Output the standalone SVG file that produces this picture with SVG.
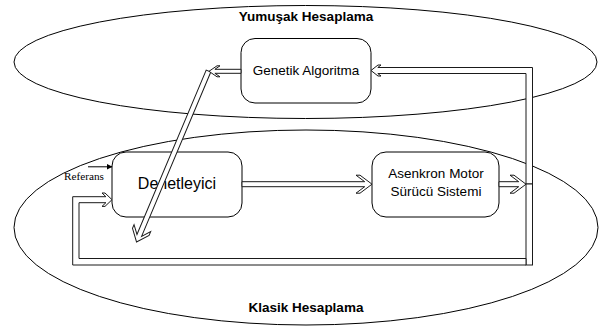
<svg xmlns="http://www.w3.org/2000/svg" width="600" height="329" viewBox="0 0 600 329">
  <style>
    .zone { fill: none; stroke: #000; stroke-width: 1; }
    .box { fill: #fff; stroke: #000; stroke-width: 1; }
    .flow { fill: #fff; stroke: #1a1a1a; stroke-width: 1; stroke-linejoin: miter; }
    .title { font-family: "Liberation Sans", Arial, sans-serif; font-weight: bold; font-size: 13.5px; fill: #000; text-anchor: middle; }
    .label { font-family: "Liberation Sans", Arial, sans-serif; font-size: 13.5px; fill: #000; text-anchor: middle; }
    .big { font-family: "Liberation Sans", Arial, sans-serif; font-size: 16px; fill: #000; text-anchor: middle; }
    .small { font-family: "Liberation Serif", "Times New Roman", serif; font-size: 10px; fill: #000; }
  </style>
  <defs>
    <marker id="solidHead" markerWidth="6" markerHeight="6" refX="5.5" refY="3" orient="auto" markerUnits="userSpaceOnUse">
      <path d="M0,0 L6,3 L0,6 Z" fill="#000"/>
    </marker>
  </defs>

  <!-- computing domains -->
  <g id="soft-computing">
    <ellipse class="zone" cx="305.5" cy="62" rx="291.5" ry="56.5"/>
    <text class="title" x="306" y="21">Yumuşak Hesaplama</text>
  </g>
  <g id="classic-computing">
    <ellipse class="zone" cx="306" cy="227.5" rx="292" ry="97.5"/>
    <text class="title" x="306" y="311.5">Klasik Hesaplama</text>
  </g>

  <!-- blocks -->
  <g id="genetic-algorithm">
    <rect class="box" x="241" y="38.5" width="130" height="64.5" rx="14" ry="14"/>
    <text class="label" x="306" y="75">Genetik Algoritma</text>
  </g>
  <g id="controller">
    <rect class="box" x="112" y="152" width="130" height="65" rx="14" ry="14"/>
    <text class="big" x="177" y="188.5">Denetleyici</text>
  </g>
  <g id="motor-drive">
    <rect class="box" x="372" y="152" width="127" height="65" rx="14" ry="14"/>
    <text class="label" x="436" y="178.3">Asenkron Motor</text>
    <text class="label" x="436" y="195.7">Sürücü Sistemi</text>
  </g>

  <!-- connectors -->
  <g id="connectors">
    <!-- reference input -->
    <line x1="88" y1="166.8" x2="112" y2="166.8" stroke="#000" stroke-width="1" marker-end="url(#solidHead)"/>
    <text class="small" x="64" y="179.5" textLength="40" lengthAdjust="spacingAndGlyphs">Referans</text>

    <!-- controller to motor drive -->
    <path class="flow" d="M242,181.7 L364.7,181.7 L356,175.2 L360,175.2 L372,184.2 L360,193.2 L356,193.2 L364.7,186.7 L242,186.7 Z"/>
    <!-- motor drive output -->
    <path class="flow" d="M499,181.7 L518.7,181.7 L510,175.2 L514,175.2 L526,184.2 L514,193.2 L510,193.2 L518.7,186.7 L499,186.7 Z"/>

    <!-- feedback up to the genetic algorithm -->
    <path class="flow" d="M526,184 L526,73.5 L377.8,73.5 L381,76 L378,76 L371,70.5 L378,65 L381,65 L377.8,67.5 L532.5,67.5 L532.5,184 Z"/>

    <!-- feedback down and back into the controller -->
    <rect class="flow" x="526" y="184" width="6.5" height="81"/>
    <path class="flow" d="M526,258.5 L79,258.5 L79,202.7 L105.9,202.7 L102,206.4 L105,206.4 L112,199.7 L105,193 L102,193 L105.9,196.7 L72.7,196.7 L72.7,265 L526,265 Z"/>

    <!-- tuning path from the genetic algorithm to the controller -->
    <path class="flow" transform="translate(208.5,71) rotate(112.83)" d="M0,-2.5 L178.4,-2.5 L170.5,-9 L174.5,-9 L185.5,0 L174.5,9 L170.5,9 L178.4,2.5 L0,2.5 Z"/>
    <path class="flow" d="M241,69.3 L214.9,69.3 L220,65.8 L217,65.8 L209,71.3 L217,76.8 L220,76.8 L214.9,73.3 L241,73.3 Z"/>
  </g>
</svg>
